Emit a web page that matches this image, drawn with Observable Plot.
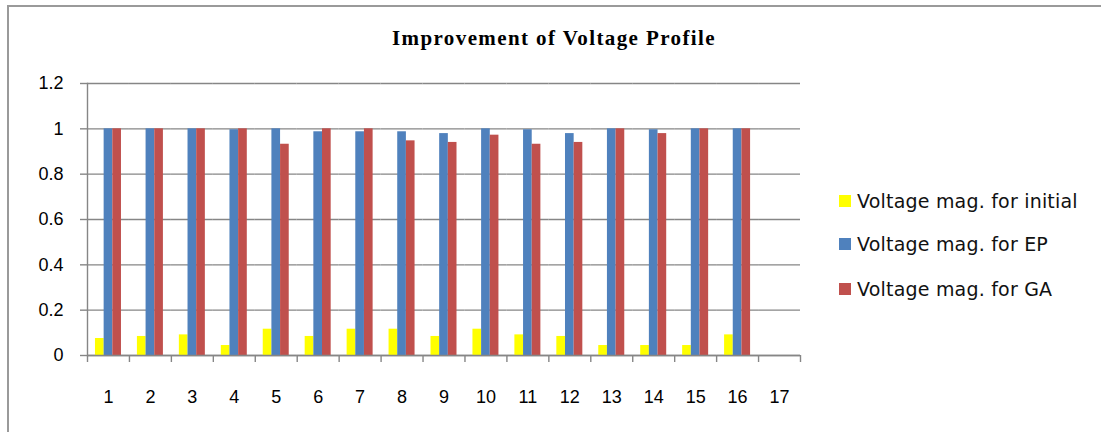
<!DOCTYPE html>
<html>
<head>
<meta charset="utf-8">
<script src="https://cdn.jsdelivr.net/npm/d3@7"></script>
<script src="https://cdn.jsdelivr.net/npm/@observablehq/plot@0.6"></script>
<style>
  body { margin: 0; background: #fff; }
  #wrap { position: relative; width: 1101px; height: 432px; overflow: hidden; background: #fff; }
  #border { position: absolute; left: 7px; top: 5px; width: 1200px; height: 600px; border-top: 2px solid #9a9a9a; border-left: 2px solid #9a9a9a; }
  #chart { position: absolute; left: 0; top: 0; }
  #title { position: absolute; left: 554px; top: 28px; transform: translateX(-50%); white-space: nowrap;
           font-family: "Liberation Serif", "Times New Roman", serif; font-weight: bold; font-size: 21px; line-height: 21px;
           letter-spacing: 1.4px; color: #000; }
  .leg { position: absolute; left: 839px; height: 22px; display: flex; align-items: center; white-space: nowrap;
         font-family: "DejaVu Sans", Verdana, sans-serif; font-size: 19px; letter-spacing: 0.2px; color: #111; }
  .sw { width: 12px; height: 12px; margin-right: 6px; }
</style>
</head>
<body>
<div id="wrap">
  <div id="border"></div>
  <div id="chart"></div>
  <div id="title"></div>
  <div id="legend"></div>
</div>
<script>
// ---- data ----
const chartTitle = "Improvement of Voltage Profile";
const categories = [1, 2, 3, 4, 5, 6, 7, 8, 9, 10, 11, 12, 13, 14, 15, 16, 17];
const seriesNames = ["Voltage mag. for initial", "Voltage mag. for EP", "Voltage mag. for GA"];
const initialValues = [0.075, 0.084, 0.091, 0.044, 0.116, 0.084, 0.116, 0.116, 0.084, 0.116, 0.091, 0.084, 0.044, 0.044, 0.044, 0.091, null];
const epValues      = [1.0, 1.0, 1.0, 0.996, 1.0, 0.987, 0.987, 0.987, 0.979, 1.0, 0.996, 0.979, 1.0, 0.996, 1.0, 1.0, null];
const gaValues      = [1.0, 1.0, 1.0, 1.0, 0.932, 1.0, 1.0, 0.947, 0.940, 0.972, 0.932, 0.940, 1.0, 0.979, 1.0, 1.0, null];
const seriesColors = ["#FFFF00", "#4F81BD", "#C0504D"];
const yTicks = [0, 0.2, 0.4, 0.6, 0.8, 1, 1.2];

// ---- table ----
const seriesValues = [initialValues, epValues, gaValues];
const table = categories.flatMap((c, i) =>
  seriesNames.map((s, j) => ({cat: c, series: s, value: seriesValues[j][i]}))
);

// ---- layout ----
const W = 1101, H = 432, mL = 87, mR = 301, mT = 83, mB = 77;
const step = (W - mL - mR) / categories.length;
const gray = "#868686";

const chart = Plot.plot({
  width: W, height: H,
  marginLeft: mL, marginRight: mR, marginTop: mT, marginBottom: mB,
  style: {fontFamily: "'Liberation Sans', Arial, sans-serif", fontSize: "18px", color: "#000", background: "transparent", overflow: "visible"},
  fx: {domain: categories, padding: 0, round: false, label: null},
  x: {domain: seriesNames, paddingInner: 0, paddingOuter: 0.92, round: false, axis: null},
  y: {domain: [0, 1.2], axis: null, label: null},
  color: {domain: seriesNames, range: seriesColors},
  marks: [
    Plot.gridY(yTicks, {stroke: gray, strokeOpacity: 1, strokeWidth: 1.4}),
    Plot.barY(table, {fx: "cat", x: "series", y: "value", fill: "series", inset: 0}),
    Plot.ruleY([0], {stroke: gray, strokeWidth: 1.4}),
    Plot.frame({anchor: "left", facetAnchor: "left", stroke: gray, strokeWidth: 1.4}),
    Plot.axisY({ticks: yTicks, tickSize: 7, tickPadding: 17, stroke: gray, strokeWidth: 1.4, tickFormat: d => String(d), anchor: "left", label: null}),
    Plot.axisFx({anchor: "bottom", tickSize: 0, tickPadding: 35, label: null}),
    Plot.axisFx({anchor: "bottom", ticks: categories, tickSize: 7, tickFormat: () => "", dx: -step / 2, stroke: gray, strokeWidth: 1.4, label: null}),
    Plot.axisFx({anchor: "bottom", ticks: [categories[categories.length - 1]], tickSize: 7, tickFormat: () => "", dx: step / 2, stroke: gray, strokeWidth: 1.4, label: null})
  ]
});
document.getElementById("chart").appendChild(chart);
document.getElementById("title").textContent = chartTitle;

const legendRowsY = [190, 233, 278];
const legend = document.getElementById("legend");
seriesNames.forEach((s, i) => {
  const row = document.createElement("div");
  row.className = "leg";
  row.style.top = legendRowsY[i] + "px";
  const sw = document.createElement("span");
  sw.className = "sw";
  sw.style.background = seriesColors[i];
  const tx = document.createElement("span");
  tx.textContent = s;
  row.appendChild(sw);
  row.appendChild(tx);
  legend.appendChild(row);
});
</script>
</body>
</html>
